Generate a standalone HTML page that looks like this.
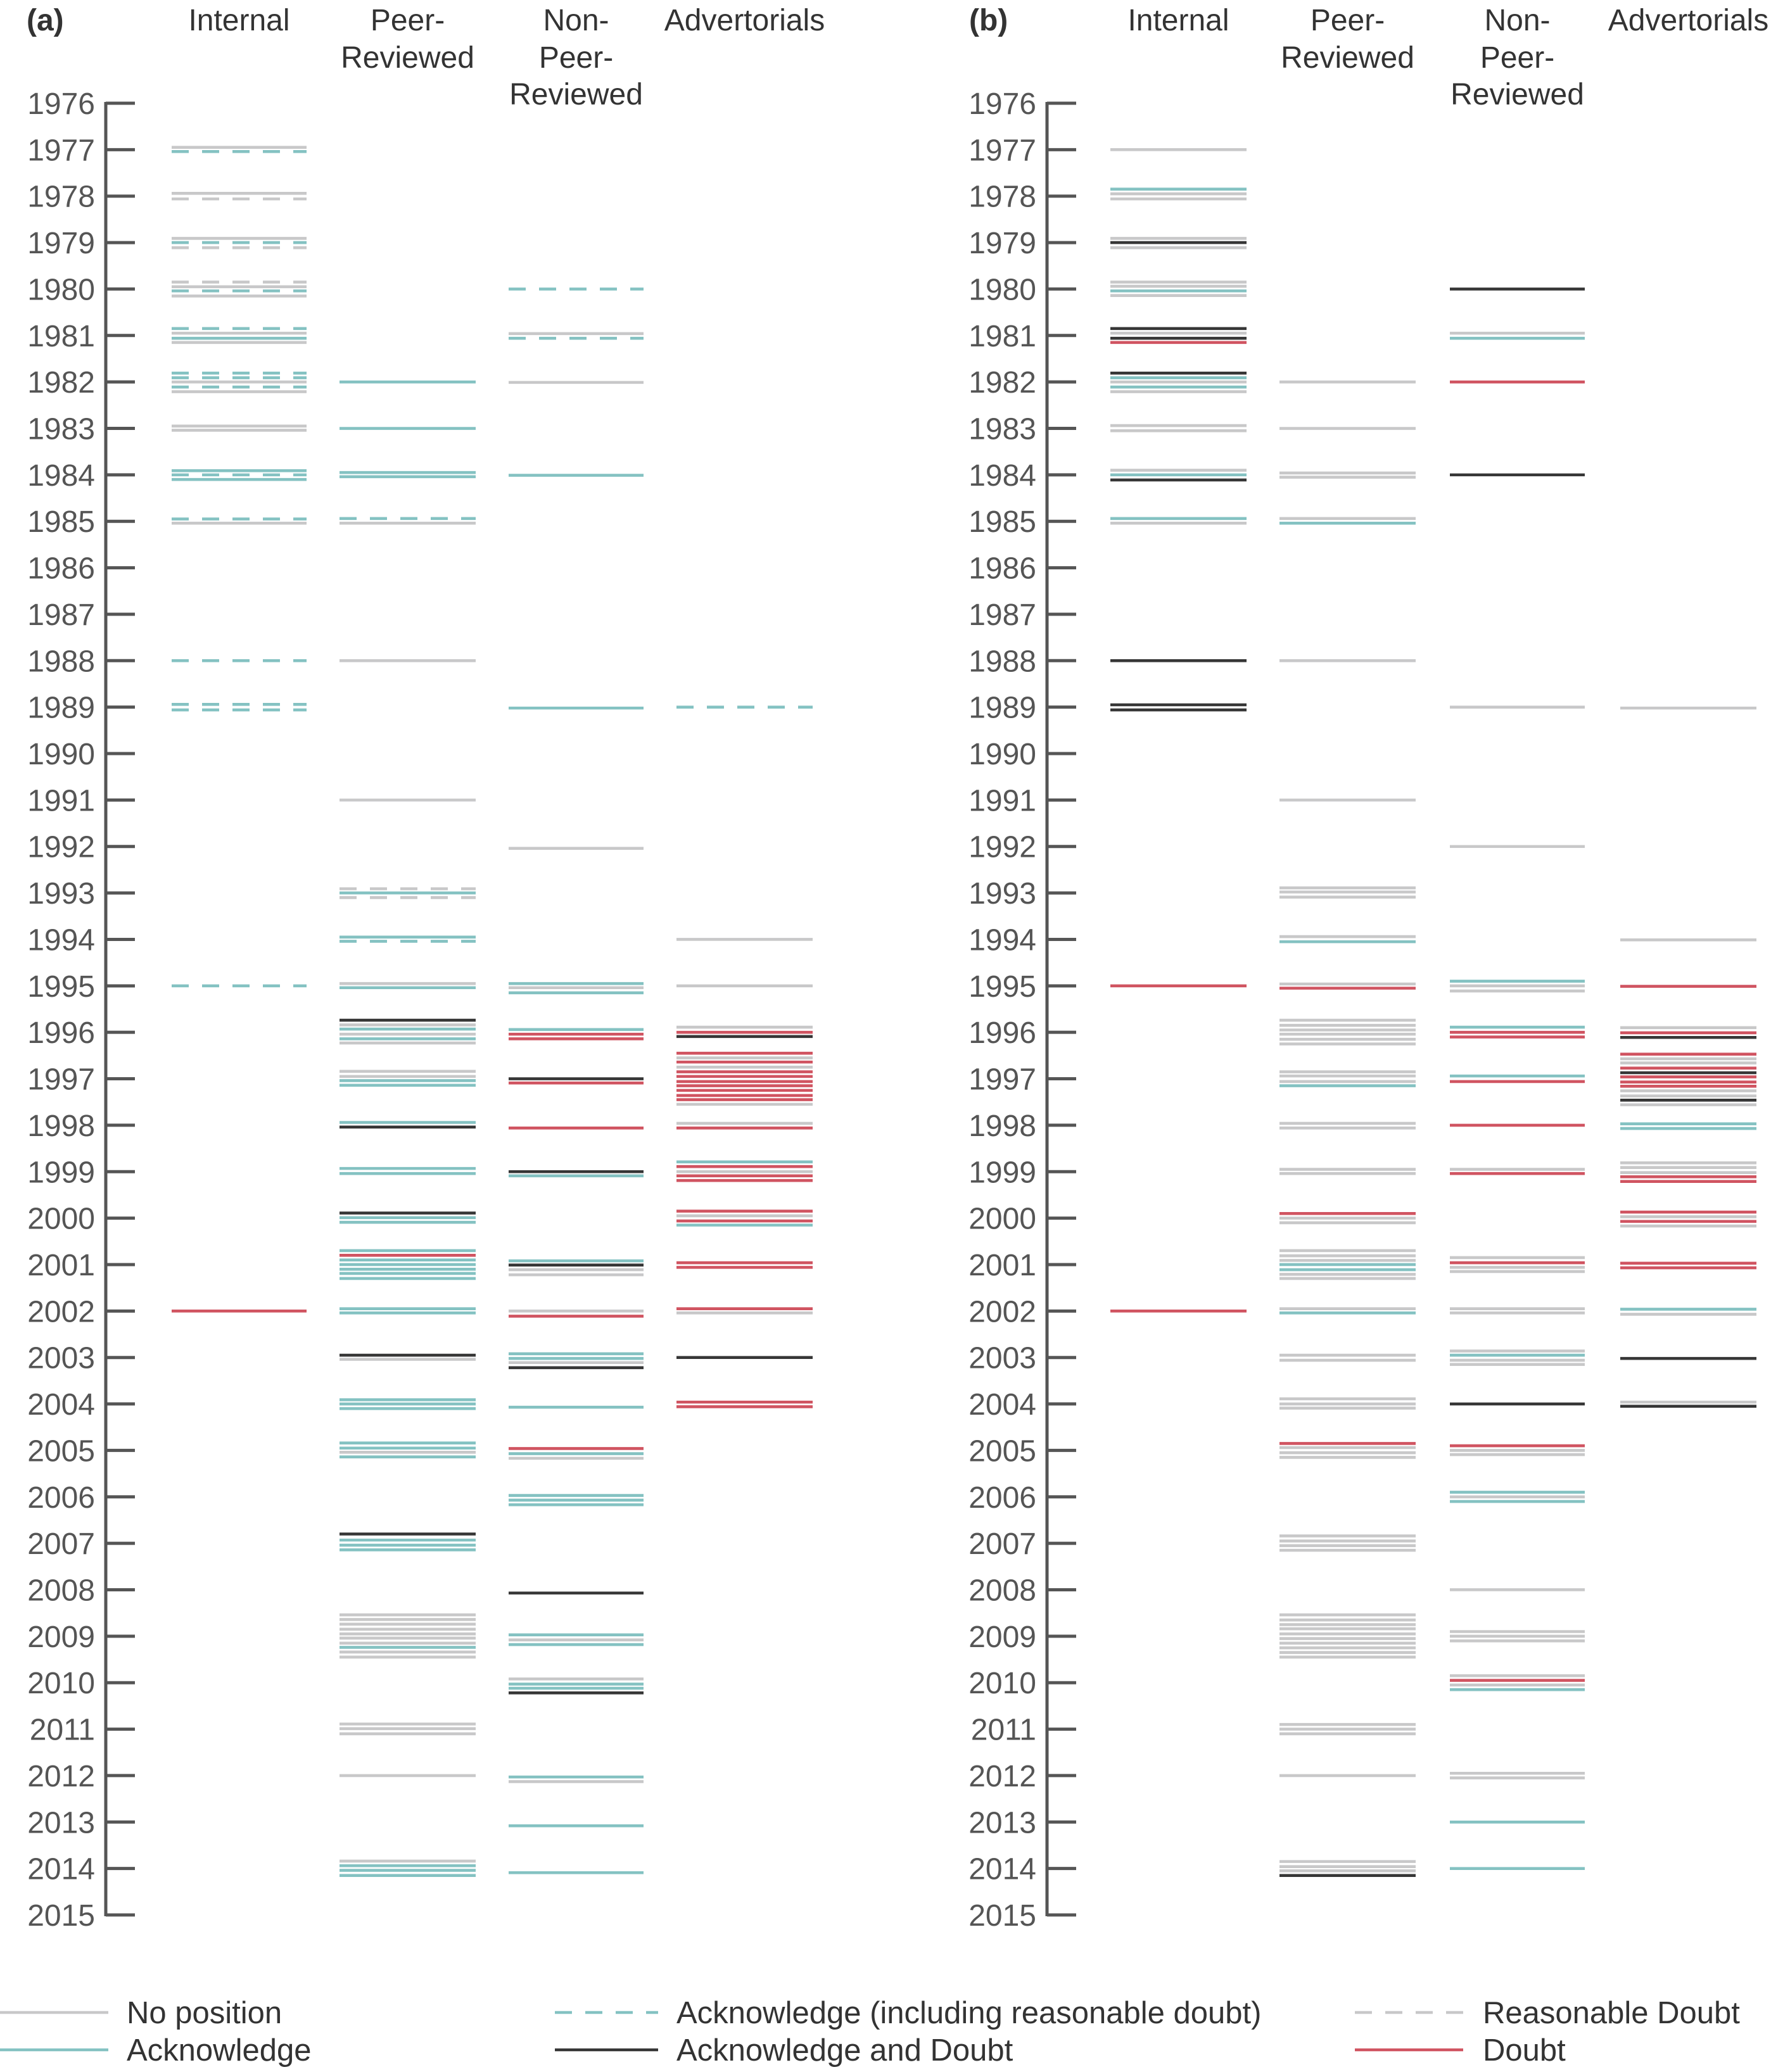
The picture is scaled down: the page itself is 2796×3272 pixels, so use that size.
<!DOCTYPE html>
<html><head><meta charset="utf-8">
<style>
html,body{margin:0;padding:0;background:#fff;}
svg{display:block;}
text{font-family:"Liberation Sans",Arial,sans-serif;}
</style></head>
<body>
<svg id="chart" width="2796" height="3272" viewBox="0 0 2796 3272" xmlns="http://www.w3.org/2000/svg">
<g id="axes"></g>
<g id="marks"></g>
<g id="legend"></g>
</svg>
<script>
// ---------- DATA ----------
const yearTicks = [1976,1977,1978,1979,1980,1981,1982,1983,1984,1985,1986,1987,1988,1989,1990,1991,1992,1993,1994,1995,1996,1997,1998,1999,2000,2001,2002,2003,2004,2005,2006,2007,2008,2009,2010,2011,2012,2013,2014,2015];
const columnNames = ["Internal","Peer-Reviewed","Non-Peer-Reviewed","Advertorials"];

const aInternalYears = [1976.95,1977.04,1977.94,1978.06,1978.91,1979.0,1979.11,1979.85,1979.95,1980.04,1980.15,1980.85,1980.95,1981.06,1981.15,1981.81,1981.91,1982.0,1982.11,1982.21,1982.95,1983.04,1983.91,1984.0,1984.1,1984.95,1985.04,1988.0,1988.94,1989.06,1995.0,2002.0];
const aInternalTypes = ["N","AD","N","RD","N","AD","RD","RD","N","AD","N","AD","N","A","N","AD","AD","N","AD","N","N","N","A","AD","A","AD","N","AD","AD","AD","AD","D"];

const aPeerYears = [1982.0,1983.0,1983.95,1984.04,1984.94,1985.04,1988.0,1991.0,1992.91,1993.0,1993.1,1993.95,1994.04,1994.95,1995.04,1995.74,1995.84,1995.93,1996.04,1996.14,1996.23,1996.84,1996.95,1997.04,1997.14,1997.94,1998.04,1998.93,1999.04,1999.89,1999.99,2000.09,2000.7,2000.8,2000.9,2001.0,2001.1,2001.19,2001.3,2001.95,2002.04,2002.95,2003.04,2003.91,2004.0,2004.1,2004.84,2004.95,2005.04,2005.14,2006.8,2006.93,2007.04,2007.14,2008.54,2008.64,2008.74,2008.85,2008.95,2009.04,2009.15,2009.24,2009.34,2009.45,2010.89,2010.99,2011.1,2012.0,2013.84,2013.94,2014.04,2014.15];
const aPeerTypes = ["A","A","A","A","AD","N","N","N","RD","A","RD","A","AD","N","A","AB","N","A","N","A","N","N","N","A","A","A","AB","A","A","AB","A","A","A","D","A","A","A","A","A","A","A","AB","N","A","A","A","A","A","N","A","AB","A","A","A","N","N","N","N","N","N","N","A","N","N","N","N","N","N","N","A","A","A"];

const aNonPeerYears = [1980.0,1980.96,1981.06,1982.01,1984.01,1989.02,1992.04,1994.95,1995.04,1995.15,1995.94,1996.04,1996.14,1997.0,1997.09,1998.06,1999.0,1999.09,2000.92,2001.01,2001.11,2001.22,2002.0,2002.11,2002.92,2003.02,2003.11,2003.22,2004.07,2004.96,2005.07,2005.17,2005.97,2006.07,2006.17,2008.07,2008.97,2009.08,2009.18,2009.92,2010.03,2010.12,2010.22,2012.03,2012.13,2013.08,2014.09];
const aNonPeerTypes = ["AD","N","AD","N","A","A","N","A","N","A","A","D","D","AB","D","D","AB","A","A","AB","N","N","N","D","A","A","N","AB","A","D","A","N","A","A","A","AB","A","N","A","N","A","A","AB","A","N","A","A"];

const aAdvertYears = [1989.0,1994.0,1995.0,1995.89,1996.0,1996.09,1996.45,1996.55,1996.64,1996.75,1996.85,1996.95,1997.06,1997.15,1997.25,1997.36,1997.45,1997.55,1997.96,1998.06,1998.79,1998.89,1999.0,1999.09,1999.19,1999.85,1999.95,2000.06,2000.15,2000.96,2001.06,2001.95,2002.04,2003.0,2003.96,2004.06];
const aAdvertTypes = ["AD","N","N","N","D","AB","D","N","D","N","D","D","D","D","D","D","D","N","N","D","A","D","N","D","D","D","N","D","A","D","D","D","N","AB","D","D"];

const bInternalYears = [1977.0,1977.85,1977.95,1978.06,1978.91,1979.0,1979.11,1979.85,1979.94,1980.04,1980.14,1980.85,1980.95,1981.06,1981.15,1981.81,1981.91,1982.0,1982.11,1982.21,1982.94,1983.05,1983.9,1984.0,1984.11,1984.94,1985.04,1988.0,1988.95,1989.06,1995.0,2002.0];
const bInternalTypes = ["N","A","N","N","N","AB","N","N","N","A","N","AB","N","AB","D","AB","A","N","A","N","N","N","N","A","AB","A","N","AB","AB","AB","D","D"];

const bPeerYears = [1982.0,1983.0,1983.96,1984.05,1984.94,1985.04,1988.0,1991.0,1992.89,1992.98,1993.09,1993.94,1994.05,1994.96,1995.05,1995.74,1995.85,1995.95,1996.04,1996.15,1996.25,1996.85,1996.94,1997.06,1997.15,1997.96,1998.06,1998.95,1999.04,1999.9,2000.0,2000.1,2000.7,2000.81,2000.91,2001.0,2001.11,2001.21,2001.3,2001.95,2002.04,2002.95,2003.06,2003.89,2004.0,2004.09,2004.85,2004.94,2005.05,2005.15,2006.84,2006.95,2007.05,2007.15,2008.54,2008.65,2008.75,2008.84,2008.95,2009.05,2009.15,2009.25,2009.35,2009.45,2010.9,2011.0,2011.1,2012.0,2013.85,2013.96,2014.05,2014.15];
const bPeerTypes = ["N","N","N","N","N","A","N","N","N","N","N","N","A","N","D","N","N","N","N","N","N","N","N","N","A","N","N","N","N","D","N","N","N","N","N","A","A","N","N","N","A","N","N","N","N","N","D","N","N","N","N","N","N","N","N","N","N","N","N","N","N","N","N","N","N","N","N","N","N","N","N","AB"];

const bNonPeerYears = [1980.0,1980.95,1981.06,1982.0,1984.0,1989.0,1992.0,1994.9,1995.0,1995.11,1995.89,1996.0,1996.1,1996.94,1997.06,1998.0,1998.95,1999.04,2000.85,2000.96,2001.06,2001.15,2001.95,2002.04,2002.86,2002.95,2003.06,2003.15,2004.0,2004.9,2005.0,2005.09,2005.9,2006.0,2006.1,2008.0,2008.9,2009.0,2009.1,2009.85,2009.95,2010.05,2010.15,2011.95,2012.05,2013.0,2014.0];
const bNonPeerTypes = ["AB","N","A","D","AB","N","N","A","N","N","A","D","D","A","D","D","N","D","N","D","N","N","N","N","N","A","N","N","AB","D","N","N","A","N","A","N","N","N","N","N","D","N","A","N","N","A","A"];

const bAdvertYears = [1989.02,1994.01,1995.01,1995.9,1996.01,1996.11,1996.47,1996.57,1996.66,1996.77,1996.87,1996.96,1997.07,1997.16,1997.26,1997.37,1997.46,1997.56,1997.97,1998.07,1998.81,1998.91,1999.02,1999.11,1999.21,1999.87,1999.97,2000.07,2000.17,2000.97,2001.07,2001.96,2002.07,2003.02,2003.96,2004.05];
const bAdvertTypes = ["N","N","D","N","D","AB","D","N","N","D","AB","D","D","D","N","N","AB","N","A","A","N","N","N","D","D","D","N","D","N","D","D","A","N","AB","N","AB"];

const legendLabels = ["No position","Acknowledge","Acknowledge (including reasonable doubt)","Acknowledge and Doubt","Reasonable Doubt","Doubt"];
const legendTypes = ["N","A","AD","AB","RD","D"];

// ---------- STYLE / LAYOUT ----------
const NS = "http://www.w3.org/2000/svg";
const STYLE = {
  N:{c:"#c8c8c9",dash:null},
  A:{c:"#84c2c2",dash:null},
  AD:{c:"#84c2c2",dash:"27 21"},
  AB:{c:"#363636",dash:null},
  RD:{c:"#c8c8c9",dash:"27 21"},
  D:{c:"#d05461",dash:null}
};
const Y0 = 163, Y1 = 3024;
function yScale(v){ return Y0 + (v - 1976) / (2015 - 1976) * (Y1 - Y0); }

const panels = [
  {id:"a", label:"(a)", labelX:42, axisX:167, tickLabelX:150,
   cols:[[271,484],[536,751],[803,1016],[1068,1283]],
   data:[[aInternalYears,aInternalTypes],[aPeerYears,aPeerTypes],[aNonPeerYears,aNonPeerTypes],[aAdvertYears,aAdvertTypes]]},
  {id:"b", label:"(b)", labelX:1530, axisX:1653, tickLabelX:1636,
   cols:[[1753,1968],[2020,2235],[2289,2502],[2558,2773]],
   data:[[bInternalYears,bInternalTypes],[bPeerYears,bPeerTypes],[bNonPeerYears,bNonPeerTypes],[bAdvertYears,bAdvertTypes]]}
];
const headerLines = [["Internal"],["Peer-","Reviewed"],["Non-","Peer-","Reviewed"],["Advertorials"]];
const headerBase = [48,107,165];
const colKeys = ["internal","peer-reviewed","non-peer-reviewed","advertorials"];

function mk(tag, attrs, parent){
  const e = document.createElementNS(NS, tag);
  for (const k in attrs) e.setAttribute(k, attrs[k]);
  parent.appendChild(e);
  return e;
}

const axesG = document.getElementById("axes");
const marksG = document.getElementById("marks");
const legendG = document.getElementById("legend");

panels.forEach(p => {
  const pg = mk("g", {}, axesG);
  
  
  const lab = mk("text", {x:p.labelX, y:48, "font-size":48, "font-weight":"bold", fill:"#333"}, pg);
  lab.textContent = p.label;
  
  

  const ax = mk("line", {x1:p.axisX, x2:p.axisX, y1:yScale(1976)-2, y2:yScale(2015)+2, stroke:"#555", "stroke-width":5}, pg);
  
  
  yearTicks.forEach(yr => {
    const y = yScale(yr);
    const t = mk("line", {x1:p.axisX, x2:p.axisX+46, y1:y, y2:y, stroke:"#555", "stroke-width":5}, pg);
    
    
    const tl = mk("text", {x:p.tickLabelX, y:y+17, "font-size":48, fill:"#555", "text-anchor":"end"}, pg);
    tl.textContent = yr;
    
    
  });

  p.cols.forEach((c, ci) => {
    const cx = (c[0] + c[1]) / 2;
    const ht = mk("text", {x:cx, "font-size":48, fill:"#333", "text-anchor":"middle"}, pg);
    
    
    headerLines[ci].forEach((ln, li) => {
      const ts = mk("tspan", {x:cx, y:headerBase[li]}, ht);
      ts.textContent = ln;
    });

    const years = p.data[ci][0], types = p.data[ci][1];
    const cg = mk("g", {}, marksG);
    
    
    years.forEach((v, i) => {
      const st = STYLE[types[i]];
      const y = yScale(v);
      const attrs = {x1:c[0], x2:c[1], y1:y, y2:y, stroke:st.c, "stroke-width":4.6};
      if (st.dash) attrs["stroke-dasharray"] = st.dash;
      const l = mk("line", attrs, cg);
      
      
    });
  });
});

// legend
const legPos = [[0,171,200,3178],[0,171,200,3237],[876,1039,1068,3178],[876,1039,1068,3237],[2139,2310,2341,3178],[2139,2310,2341,3237]];
legendTypes.forEach((t, i) => {
  const st = STYLE[t];
  const lp = legPos[i];
  const g = mk("g", {}, legendG);
  
  
  const attrs = {x1:lp[0], x2:lp[1], y1:lp[3], y2:lp[3], stroke:st.c, "stroke-width":4.6};
  if (st.dash) attrs["stroke-dasharray"] = st.dash;
  const l = mk("line", attrs, g);
  
  
  const tx = mk("text", {x:lp[2], y:lp[3]+17, "font-size":49, fill:"#333"}, g);
  tx.textContent = legendLabels[i];
  
  
});
</script>
</body></html>
